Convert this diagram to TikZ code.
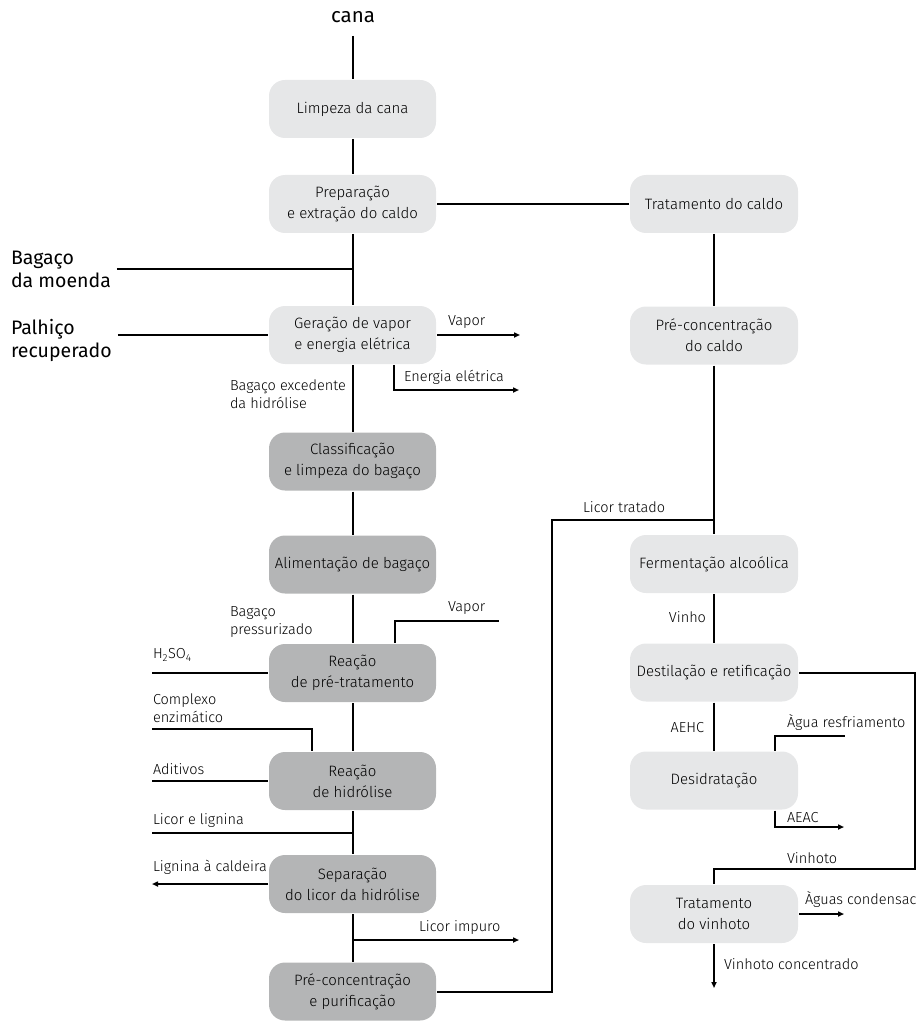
\documentclass[tikz,border=0pt]{standalone}
\usepackage{fontspec}
\setmainfont{Fira Sans Light}
\newfontfamily\bigfont{Fira Sans}
\usepackage{xcolor}
\usetikzlibrary{arrows.meta}
\definecolor{boxlight}{HTML}{E6E7E8}
\definecolor{boxdark}{HTML}{B4B5B6}
\tikzset{lightbox/.style={fill=boxlight, rounded corners=16pt, minimum width=167pt, minimum height=58pt, align=center, inner sep=2pt, font=\fontsize{15}{21}\selectfont},
    darkbox/.style={lightbox, fill=boxdark},
    flowlabel/.style={anchor=west, align=left, inner sep=0pt, font=\fontsize{14.5}{18}\selectfont},
    biglabel/.style={anchor=west, align=left, inner sep=0pt, font=\bigfont\fontsize{19.5}{23}\selectfont},
    outarrow/.style={-{Triangle[length=6pt,width=5pt]}}}

\begin{document}
\begin{tikzpicture}[x=1pt,y=-1pt,line width=2pt]
                      \useasboundingbox (0,0) rectangle (919,1024);

                      \node[biglabel,anchor=center,font=\bigfont\fontsize{20.5}{23}\selectfont] (cana) at (353,17) {cana};
                      \coordinate (canatop) at (352.5,36);
                      \node[lightbox] (limpeza) at (352.5,109) {Limpeza da cana};
                      \node[lightbox] (prep) at (352.5,204) {Preparação\\e extração do caldo};
                      \node[lightbox] (geracao) at (352.5,335) {Geração de vapor\\e energia elétrica};
                      \node[darkbox] (classif) at (352.5,461.5) {Classificação\\e limpeza do bagaço};
                      \node[darkbox] (aliment) at (352.5,564.5) {Alimentação de bagaço};
                      \node[darkbox] (pretrat) at (352.5,673) {Reação\\de pré-tratamento};
                      \node[darkbox] (hidrol) at (352.5,781) {Reação\\de hidrólise};
                      \node[darkbox] (separ) at (352.5,884) {Separação\\do licor da hidrólise};
                      \node[darkbox] (precpur) at (352.5,991.5) {Pré-concentração\\e purificação};

                      \node[lightbox,minimum width=168pt] (tratcaldo) at (714,204) {Tratamento do caldo};
                      \node[lightbox,minimum width=168pt] (precaldo) at (714,335.5) {Pré-concentração\\do caldo};
                      \node[lightbox,minimum width=168pt] (ferment) at (714,564) {Fermentação alcoólica};
                      \node[lightbox,minimum width=168pt] (destil) at (714,672.5) {Destilação e retificação};
                      \node[lightbox,minimum width=168pt] (desidr) at (714,780.5) {Desidratação};
                      \node[lightbox,minimum width=168pt] (tratvinh) at (714,914) {Tratamento\\do vinhoto};

                      \node[biglabel] (moenda) at (10,269) {Bagaço\\da moenda};
                      \node[biglabel] (palhico) at (10,340) {Palhiço\\recuperado};

                      \draw(canatop)--(limpeza);
                      \draw(limpeza)--(prep);
                      \draw(prep)--(geracao);
                      \draw(prep)--(tratcaldo);
                      \draw([xshift=5pt]moenda.east)--(moenda.east -| prep.south);
                      \draw([xshift=5pt]palhico.east |- geracao.west)--(geracao);

                      \coordinate (vapor1) at (520,335);
                      \draw[outarrow](geracao)--(vapor1);
                      \node[flowlabel] (lvapor1) at (447,322) {Vapor};
                      \coordinate (energ) at (519,390);
                      \draw[outarrow]([xshift=41.5pt]geracao.south)|-(energ);
                      \node[flowlabel] (lenerg) at (403,377) {Energia elétrica};

                      \draw(geracao)--(classif);
                      \node[flowlabel] (lexced) at (229,394.5) {Bagaço excedente\\da hidrólise};
                      \draw(classif)--(aliment);
                      \draw(aliment)--(pretrat);
                      \node[flowlabel] (lpress) at (229,622) {Bagaço\\pressurizado};

                      \coordinate (vapor2) at (499,621);
                      \draw([xshift=42.5pt]pretrat.north)|-(vapor2);
                      \node[flowlabel] (lvapor2) at (447,608) {Vapor};
                      \coordinate (h2so4) at (152,673);
                      \draw(h2so4)--(pretrat);
                      \node[flowlabel] (lh2so4) at (152,655) {H\textsubscript{2}SO\textsubscript{4}};

                      \draw(pretrat)--(hidrol);
                      \coordinate (enzim) at (152,729);
                      \draw(enzim)-|([xshift=-40.5pt]hidrol.north);
                      \node[flowlabel] (lenzim) at (152,708.5) {Complexo\\enzimático};
                      \coordinate (aditiv) at (152,781);
                      \draw(aditiv)--(hidrol);
                      \node[flowlabel] (laditiv) at (152,769) {Aditivos};

                      \draw(hidrol)--(separ);
                      \coordinate (licorlig) at (152,833);
                      \draw(licorlig)--(licorlig -| hidrol.south);
                      \node[flowlabel] (llicorlig) at (152,821) {Licor e lignina};
                      \coordinate (caldeira) at (152,884);
                      \draw[outarrow](separ)--(caldeira);
                      \node[flowlabel] (lcaldeira) at (152,867) {Lignina à caldeira};

                      \draw(separ)--(precpur);
                      \coordinate (impuro) at (519,940);
                      \draw[outarrow](impuro -| separ.south)--(impuro);
                      \node[flowlabel] (limpuro) at (418,928) {Licor impuro};

                      \coordinate (ltcorner) at (552,520);
                      \coordinate (jtrat) at (714,520);
                      \draw(precpur.east)-|(ltcorner)--(jtrat);
                      \node[flowlabel] (ltratado) at (582,507) {Licor tratado};

                      \draw(tratcaldo)--(precaldo);
                      \draw(precaldo)--(ferment);
                      \draw(ferment)--(destil);
                      \node[flowlabel,anchor=east] (lvinho) at (707,617) {Vinho};
                      \draw(destil)--(desidr);
                      \node[flowlabel,anchor=east] (laehc) at (705,728) {AEHC};

                      \coordinate (vinhcorner) at (915,869);
                      \draw(destil.east)-|(vinhcorner)-|(tratvinh.north);
                      \node[flowlabel] (lvinhoto) at (786,858) {Vinhoto};
                      \coordinate (aguaresf) at (845,736);
                      \draw([xshift=61pt]desidr.north)|-(aguaresf);
                      \node[flowlabel] (laguaresf) at (786,723) {Àgua resfriamento};
                      \coordinate (aeac) at (844,827);
                      \draw[outarrow]([xshift=61pt]desidr.south)|-(aeac);
                      \node[flowlabel] (laeac) at (786,818) {AEAC};

                      \coordinate (condens) at (844,914);
                      \draw[outarrow](tratvinh)--(condens);
                      \node[flowlabel] (lcondens) at (804,900) {Àguas condensac};
                      \coordinate (vconc) at (714,988);
                      \draw[outarrow](tratvinh)--(vconc);
                      \node[flowlabel] (lvconc) at (723,964) {Vinhoto concentrado};
             \end{tikzpicture}
\end{document}
